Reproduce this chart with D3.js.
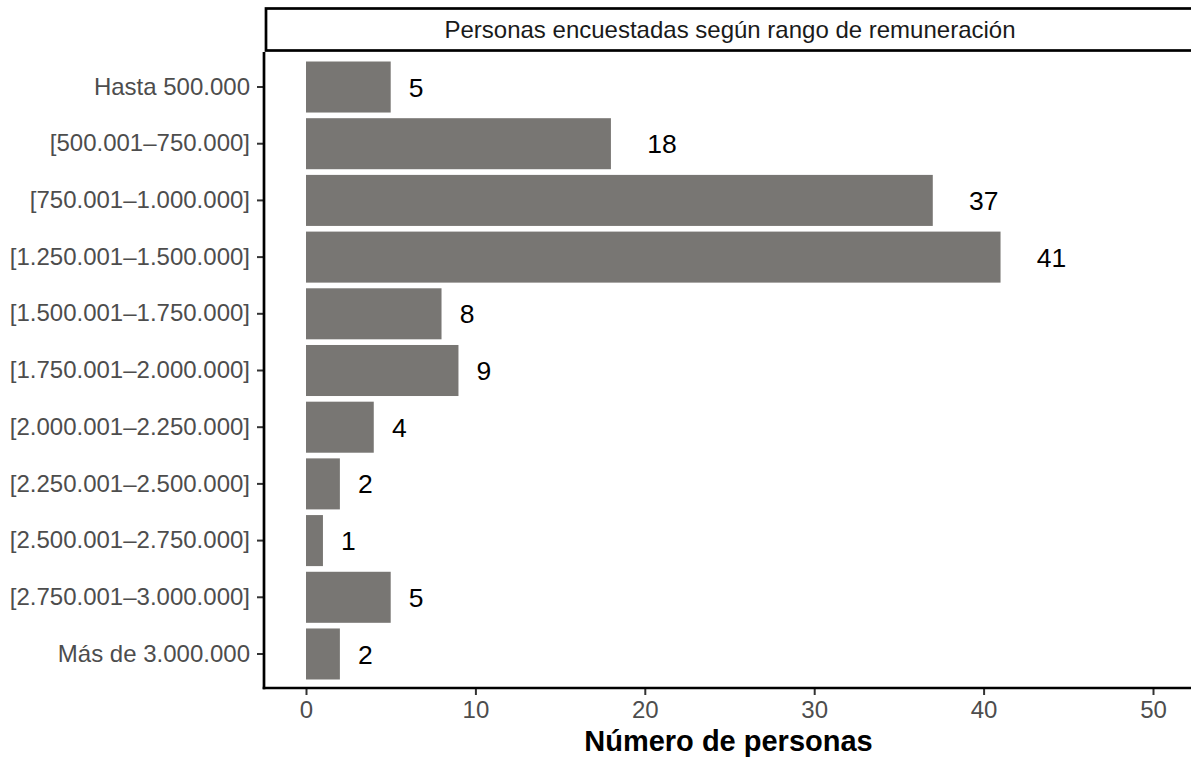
<!DOCTYPE html>
<html><head><meta charset="utf-8">
<script src="https://cdn.jsdelivr.net/npm/d3@7"></script>
<style>
body{margin:0;background:#fff;}
svg{display:block;font-family:"Liberation Sans",Arial,sans-serif;}
</style></head>
<body><svg id="chart" width="1191" height="757"></svg>
<script>
const categories = ["Hasta 500.000","[500.001\u2013750.000]","[750.001\u20131.000.000]","[1.250.001\u20131.500.000]","[1.500.001\u20131.750.000]","[1.750.001\u20132.000.000]","[2.000.001\u20132.250.000]","[2.250.001\u20132.500.000]","[2.500.001\u20132.750.000]","[2.750.001\u20133.000.000]","Más de 3.000.000"];
const values = [5,18,37,41,8,9,4,2,1,5,2];
const xTicks = [0,10,20,30,40,50];
const stripTitle = "Personas encuestadas según rango de remuneración";
const xTitle = "Número de personas";

const svg = d3.select("#chart");
const panel = {left:264, right:1191, top:53, bottom:688};

const x = d3.scaleLinear().domain([0,50]).range([306,1153]);
const y = d3.scaleBand().domain(categories).range([panel.top, panel.bottom]).paddingInner(0.1).paddingOuter(0.15);

// bars
svg.append("g").selectAll("rect").data(values).join("rect")
  .attr("x", x(0))
  .attr("y", (d,i)=>y(categories[i]))
  .attr("width", d=>x(d)-x(0))
  .attr("height", y.bandwidth())
  .attr("fill", "#787673");

// value labels
svg.append("g").selectAll("text").data(values).join("text")
  .attr("y", (d,i)=>y(categories[i]) + y.bandwidth()/2)
  .attr("dy", "0.36em")
  .attr("font-size", 26.5)
  .attr("fill", "#000")
  .text(d=>d)
  .each(function(d){
    const w = this.getComputedTextLength();
    d3.select(this).attr("x", x(d) + 1.23*w);
  });

// y axis
const yAxis = svg.append("g").attr("transform", `translate(${panel.left},0)`)
  .call(d3.axisLeft(y).tickSize(7).tickPadding(7));
yAxis.select(".domain").remove();
yAxis.selectAll(".tick line").attr("stroke","#333").attr("stroke-width",2);
yAxis.selectAll(".tick text").attr("fill","#4d4d4d").attr("font-size",24)
  .attr("font-family","Liberation Sans, Arial, sans-serif");

// x axis
const xAxis = svg.append("g").attr("transform", `translate(0,${panel.bottom})`)
  .call(d3.axisBottom(x).tickValues(xTicks).tickSize(7).tickPadding(6));
xAxis.select(".domain").remove();
xAxis.selectAll(".tick line").attr("stroke","#333").attr("stroke-width",2);
xAxis.selectAll(".tick text").attr("fill","#4d4d4d").attr("font-size",24)
  .attr("font-family","Liberation Sans, Arial, sans-serif");

// axis lines
svg.append("line").attr("x1",panel.left).attr("x2",panel.left)
  .attr("y1",panel.top-1).attr("y2",panel.bottom+1.3)
  .attr("stroke","#000").attr("stroke-width",2.7);
svg.append("line").attr("x1",panel.left-1.3).attr("x2",1195)
  .attr("y1",panel.bottom).attr("y2",panel.bottom)
  .attr("stroke","#000").attr("stroke-width",2.7);

// strip
svg.append("rect").attr("x",266).attr("y",8.5).attr("width",940).attr("height",42)
  .attr("fill","#fff").attr("stroke","#000").attr("stroke-width",2.7);
svg.append("text").attr("x",730).attr("y",30).attr("dy","0.35em")
  .attr("text-anchor","middle").attr("font-size",24).attr("fill","#1a1a1a")
  .text(stripTitle);

// x title
svg.append("text").attr("x",728.5).attr("y",751)
  .attr("text-anchor","middle").attr("font-size",29).attr("font-weight","bold")
  .attr("fill","#000").text(xTitle);
</script></body></html>
